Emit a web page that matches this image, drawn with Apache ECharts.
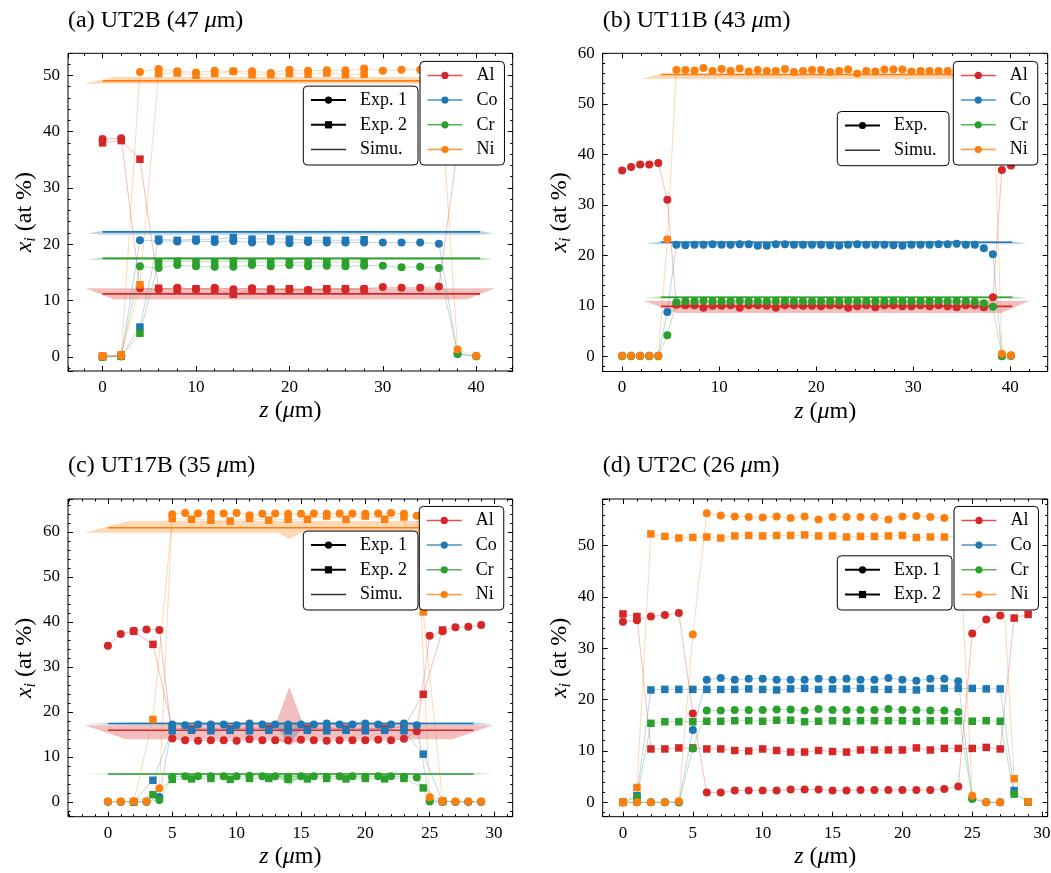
<!DOCTYPE html>
<html><head><meta charset="utf-8">
<script src="https://cdn.jsdelivr.net/npm/echarts@6/dist/echarts.min.js"></script>
<style>html,body{margin:0;padding:0;background:#fff}#c{width:1051px;height:873px}</style>
</head><body><div id="c"></div>
<script>
const FONT = "'Liberation Serif','DejaVu Serif',serif";
const ELEMENTS = ['Al', 'Co', 'Cr', 'Ni'];
const COLORS = { Al: '#d62728', Co: '#1f77b4', Cr: '#2ca02c', Ni: '#ff7f0e' };

// ---------- Panel (a) UT2B ----------
const a_x1 = [0,2,4,6,8,10,12,14,16,18,20,22,24,26,28,30,32,34,36,38,40];
const a_x2 = [0,2,4,6,8,10,12,14,16,18,20,22,24,26,28];
const a_Al_1 = [38.7,38.8,12.2,12.0,12.3,12.0,12.3,12.0,12.2,12.0,11.9,11.9,12.0,12.0,12.1,12.4,12.3,12.3,12.5,37.0,38.0];
const a_Al_2 = [38.0,38.4,35.1,12.2,12.0,12.1,12.0,11.1,12.0,12.0,12.1,11.8,12.1,12.1,12.0];
const a_Co_1 = [0.1,0.1,20.7,20.6,20.5,20.6,20.4,20.6,20.3,20.5,20.2,20.4,20.3,20.3,20.3,20.3,20.3,20.3,20.1,0.5,0.1];
const a_Co_2 = [0.1,0.2,5.3,20.9,20.7,20.9,20.9,21.2,20.9,21.0,20.9,20.7,20.7,20.7,20.8];
const a_Cr_1 = [0.0,0.1,16.1,15.8,16.3,16.1,16.0,16.0,16.3,16.1,16.3,16.1,16.2,16.1,16.2,16.2,15.9,16.0,15.8,0.6,0.1];
const a_Cr_2 = [0.0,0.1,4.2,16.9,17.0,16.9,16.9,17.0,16.8,16.9,16.8,16.7,16.8,16.9,16.8];
const a_Ni_1 = [0.1,0.2,50.6,51.1,50.7,50.5,50.8,50.7,50.7,50.4,51.0,50.8,50.9,50.9,51.2,50.8,51.0,51.0,51.1,1.3,0.2];
const a_Ni_2 = [0.2,0.4,12.8,50.3,50.4,50.0,50.3,50.7,50.1,50.1,50.3,50.2,50.4,50.1,50.2];
const a_simX = [0, 40.4];
const a_simY = { Al: 11.2, Co: 22.2, Cr: 17.5, Ni: 49.0 };
const a_band = {
  Al: [[-1.8,12.2],[42.0,12.2],[39.0,10.2],[1.2,10.2]],
  Co: [[-1.6,21.9],[0,22.4],[40.4,22.4],[41.8,21.9],[40.4,21.7],[0,21.7]],
  Cr: [[-1.6,17.3],[0,17.7],[40.4,17.7],[41.8,17.3],[40.4,17.2],[0,17.2]],
  Ni: [[-2.0,48.5],[1.2,49.7],[42.0,49.7],[42.0,48.5]]
};

// ---------- Panel (b) UT11B ----------
const b_x = [0.00,0.93,1.86,2.80,3.73,4.66,5.59,6.52,7.46,8.39,9.32,10.25,11.18,12.12,13.05,13.98,14.91,15.84,16.78,17.71,18.64,19.57,20.50,21.44,22.37,23.30,24.23,25.16,26.10,27.03,27.96,28.89,29.82,30.76,31.69,32.62,33.55,34.48,35.42,36.35,37.28,38.21,39.14,40.08];
const b_Al = [36.8,37.5,38.0,38.0,38.3,31.0,10.2,10.1,10.1,9.6,10.0,10.0,10.1,9.6,10.1,10.1,10.0,9.6,10.1,10.1,10.0,10.0,9.9,10.1,10.1,9.6,9.9,10.1,9.7,10.1,10.1,9.9,9.9,10.1,9.9,10.1,9.9,9.7,10.1,10.1,9.7,11.7,36.9,37.8];
const b_Co = [0.1,0.1,0.1,0.1,0.1,8.8,22.1,22.0,22.1,22.1,22.2,22.1,22.1,22.2,22.2,21.9,21.9,22.2,22.2,22.1,22.1,22.1,22.1,22.0,21.9,22.1,22.2,22.1,22.1,22.1,22.0,21.9,22.1,22.1,22.1,22.2,22.2,22.3,22.1,22.1,21.4,20.2,0.1,0.1];
const b_Cr = [0.0,0.0,0.0,0.0,0.0,4.2,10.7,10.9,10.9,11.0,10.9,10.9,10.9,11.0,10.9,10.9,10.9,10.9,11.0,10.9,10.9,10.9,10.9,10.9,10.9,11.0,10.9,10.9,10.9,10.9,11.0,10.9,10.9,10.9,10.9,11.0,10.9,10.9,10.9,10.8,10.5,9.8,0.0,0.1];
const b_Ni = [0.1,0.1,0.1,0.1,0.1,23.2,56.7,56.7,56.6,57.1,56.5,56.9,56.5,57.0,56.4,56.7,56.5,56.5,56.9,56.3,56.5,56.7,56.7,56.3,56.5,56.8,56.0,56.5,56.4,56.8,56.8,56.8,56.4,56.5,56.5,56.5,56.5,56.5,56.6,56.5,56.4,56.3,0.5,0.2];
const b_simX = [4.0, 40.2];
const b_simY = { Al: 9.9, Co: 22.6, Cr: 11.7, Ni: 55.8 };
const b_band = {
  Al: [[2.2,11.0],[42.0,11.0],[39.1,8.6],[5.6,8.6]],
  Co: [[2.4,22.3],[4.0,22.8],[40.2,22.8],[41.7,22.3],[40.2,22.2],[4.0,22.2]],
  Cr: [[2.4,11.6],[4.0,11.9],[40.2,11.9],[41.7,11.5],[40.2,11.4],[4.0,11.4]],
  Ni: [[2.0,54.9],[4.1,56.0],[42.0,56.0],[42.0,54.9]]
};

// ---------- Panel (c) UT17B ----------
const c_x1 = [0,1,2,3,4,5,6,7,8,9,10,11,12,13,14,15,16,17,18,19,20,21,22,23,24,25,26,27,28,29];
const c_x2 = [2,3.5,5,6.5,8,9.5,11,12.5,14,15.5,17,18.5,20,21.5,23,24.5,26];
const c_Al_1 = [34.7,37.3,38.0,38.3,38.2,14.1,13.7,13.6,13.7,13.7,13.6,13.9,13.7,13.7,13.7,13.8,13.7,13.6,13.7,13.7,13.7,13.8,13.7,14.0,15.7,36.9,37.9,38.8,38.9,39.3];
const c_Al_2 = [37.9,35.0,16.4,16.2,16.3,16.2,16.4,16.3,16.2,16.3,16.4,16.2,16.3,16.3,16.7,23.9,38.2];
const c_Co_1 = [0.0,0.0,0.0,0.0,1.1,17.2,17.0,17.2,17.2,17.2,17.0,17.4,17.2,17.2,17.2,17.2,17.2,17.4,17.2,17.2,17.4,17.2,17.2,17.4,17.0,0.3,0.1,0.0,0.0,0.0];
const c_Co_2 = [0.0,4.8,15.8,15.9,15.8,15.9,15.8,15.9,15.8,15.9,15.8,15.9,15.8,15.9,15.8,10.6,0.1];
const c_Cr_1 = [0.0,0.0,0.0,0.0,0.4,5.6,5.7,5.7,5.7,5.7,5.7,5.8,5.7,5.7,5.6,5.7,5.7,5.6,5.7,5.7,5.6,5.7,5.7,5.6,5.4,0.1,0.0,0.0,0.0,0.0];
const c_Cr_2 = [0.0,1.6,5.0,5.1,5.2,5.0,5.2,5.2,5.0,5.1,5.2,5.1,5.2,5.1,5.2,3.1,0.1];
const c_Ni_1 = [0.1,0.1,0.1,0.1,3.0,63.9,64.2,64.1,64.1,64.1,64.2,63.7,64.0,64.1,64.0,64.0,64.1,64.0,64.1,64.1,64.0,64.1,64.2,64.0,63.6,1.0,0.2,0.1,0.1,0.1];
const c_Ni_2 = [0.1,18.3,63.0,62.8,62.6,62.4,63.0,62.6,62.8,62.8,63.5,62.8,63.5,62.8,63.3,42.2,0.1];
const c_simX = [0, 28.4];
const c_simY = { Al: 15.9, Co: 17.4, Cr: 6.2, Ni: 60.9 };
const c_band = {
  Al: [[-1.8,17.0],[13.0,17.0],[14.1,25.6],[15.2,17.0],[29.9,17.0],[26.8,13.9],[15.2,13.9],[14.1,12.6],[13.0,13.9],[1.4,13.9]],
  Co: [[-1.8,17.3],[1.6,17.7],[28.4,17.7],[29.9,17.3],[28.4,17.0],[15.2,17.0],[14.1,12.6],[13.0,17.0],[1.6,17.0]],
  Cr: [[-1.8,6.2],[1.6,6.4],[28.4,6.4],[29.9,6.2],[28.4,6.0],[15.2,6.0],[14.1,3.7],[13.0,6.0],[1.6,6.0]],
  Ni: [[-1.8,59.8],[1.6,62.4],[29.9,62.4],[29.9,59.8],[15.0,59.8],[14.1,58.4],[13.2,59.8]]
};

// ---------- Panel (d) UT2C ----------
const d_x1 = [0,1,2,3,4,5,6,7,8,9,10,11,12,13,14,15,16,17,18,19,20,21,22,23,24,25,26,27];
const d_x2 = [0,1,2,3,4,5,6,7,8,9,10,11,12,13,14,15,16,17,18,19,20,21,22,23,24,25,26,27,28,29];
const d_Al_1 = [35.2,35.5,36.2,36.5,36.9,17.3,1.9,1.9,2.3,2.3,2.3,2.3,2.5,2.5,2.5,2.3,2.3,2.4,2.4,2.4,2.4,2.4,2.4,2.6,3.1,32.9,35.6,36.4];
const d_Al_2 = [36.7,36.2,10.4,10.4,10.6,10.6,10.4,10.4,10.1,10.0,10.4,10.1,9.8,9.8,10.1,9.9,9.8,10.2,10.2,10.2,10.2,10.6,10.2,10.5,10.5,10.5,10.7,10.4,35.9,36.6];
const d_Co_1 = [0.0,0.0,0.0,0.0,0.0,14.1,23.9,24.2,23.9,24.1,24.1,23.9,23.9,23.9,24.1,23.9,24.1,23.9,23.9,24.2,23.9,23.7,24.1,24.1,23.6,0.7,0.0,0.0];
const d_Co_2 = [0.0,1.3,21.9,22.0,22.0,22.0,22.0,22.0,22.0,22.1,22.0,21.9,22.1,22.2,22.0,22.1,22.1,22.2,22.0,22.0,22.0,21.9,22.2,22.2,22.2,22.2,22.1,22.1,2.3,0.1];
const d_Cr_1 = [0.0,0.0,0.0,0.0,0.0,10.5,17.9,17.9,18.0,18.0,18.0,18.1,18.1,17.9,18.2,18.0,18.0,18.0,18.0,18.2,18.0,18.0,17.9,17.9,17.6,0.7,0.0,0.0];
const d_Cr_2 = [0.0,1.0,15.4,15.7,15.7,15.7,15.8,15.8,15.9,15.9,15.8,16.0,16.0,15.7,15.8,15.9,15.8,15.9,15.9,15.9,15.9,15.8,15.9,15.9,15.9,15.8,15.9,15.8,1.6,0.1];
const d_Ni_1 = [0.0,0.0,0.0,0.0,0.2,32.7,56.3,55.9,55.7,55.6,55.5,55.7,55.4,55.7,55.1,55.6,55.6,55.6,55.6,55.1,55.7,55.8,55.6,55.4,55.5,1.3,0.0,0.0];
const d_Ni_2 = [0.0,2.9,52.3,51.8,51.5,51.6,51.7,51.5,51.9,52.0,51.9,52.0,52.0,52.1,51.9,51.9,51.7,51.8,51.8,51.9,52.0,51.6,51.7,51.7,51.8,51.8,51.8,51.8,4.6,0.1];

// ---------- layout ----------
const PANELS = [
  { title: '(a) UT2B (47 {it|μ}m)', titlePos: [68, 7],
    grid: { left: 68, top: 53.3, width: 444.7, height: 317.7 },
    x: [-3.7, 43.9, 10, 2], y: [-2.5, 53.9, 10, 2],
    exp: [{ x: a_x1, sym: 'circle', v: { Al: a_Al_1, Co: a_Co_1, Cr: a_Cr_1, Ni: a_Ni_1 } },
          { x: a_x2, sym: 'rect', v: { Al: a_Al_2, Co: a_Co_2, Cr: a_Cr_2, Ni: a_Ni_2 } }],
    sim: { x: a_simX, y: a_simY, band: a_band },
    elemLegend: [420, 61.4], expLegend: { pos: [303.3, 86.1], names: ['Exp. 1', 'Exp. 2', 'Simu.'], w: 52 } },
  { title: '(b) UT11B (43 {it|μ}m)', titlePos: [602.7, 7],
    grid: { left: 602.7, top: 53.3, width: 445, height: 318.2 },
    x: [-2.0, 43.86, 10, 2], y: [-3.0, 60.0, 10, 2],
    exp: [{ x: b_x, sym: 'circle', v: { Al: b_Al, Co: b_Co, Cr: b_Cr, Ni: b_Ni } }],
    sim: { x: b_simX, y: b_simY, band: b_band },
    elemLegend: [953.3, 61.4], expLegend: { pos: [837.3, 111.5], names: ['Exp.', 'Simu.'], w: 49 } },
  { title: '(c) UT17B (35 {it|μ}m)', titlePos: [68, 452],
    grid: { left: 68, top: 499, width: 444.7, height: 317.7 },
    x: [-3.1, 31.45, 5, 1], y: [-3.3, 67.3, 10, 2],
    exp: [{ x: c_x1, sym: 'circle', v: { Al: c_Al_1, Co: c_Co_1, Cr: c_Cr_1, Ni: c_Ni_1 } },
          { x: c_x2, sym: 'rect', v: { Al: c_Al_2, Co: c_Co_2, Cr: c_Cr_2, Ni: c_Ni_2 } }],
    sim: { x: c_simX, y: c_simY, band: c_band },
    elemLegend: [419.3, 506.4], expLegend: { pos: [303.3, 531.1], names: ['Exp. 1', 'Exp. 2', 'Simu.'], w: 52 } },
  { title: '(d) UT2C (26 {it|μ}m)', titlePos: [602.7, 452],
    grid: { left: 602.7, top: 499, width: 445, height: 317.7 },
    x: [-1.45, 30.4, 5, 1], y: [-2.8, 59.1, 10, 2],
    exp: [{ x: d_x1, sym: 'circle', v: { Al: d_Al_1, Co: d_Co_1, Cr: d_Cr_1, Ni: d_Ni_1 } },
          { x: d_x2, sym: 'rect', v: { Al: d_Al_2, Co: d_Co_2, Cr: d_Cr_2, Ni: d_Ni_2 } }],
    sim: null,
    elemLegend: [954, 506.4], expLegend: { pos: [837.3, 555.8], names: ['Exp. 1', 'Exp. 2'], w: 52 } }
];

function fmt(step) {
  return v => Math.abs(v / step - Math.round(v / step)) < 1e-6 ? String(Math.round(v)) : '';
}
const nameStyle = {
  color: '#000', fontFamily: FONT, fontSize: 24, lineHeight: 28,
  rich: {
    it: { fontStyle: 'italic', fontFamily: FONT, fontSize: 24, lineHeight: 28, color: '#000' },
    sub: { fontStyle: 'italic', fontFamily: FONT, fontSize: 16, lineHeight: 16, verticalAlign: 'bottom', color: '#000' }
  }
};
function tick(len) { return { show: true, inside: true, length: len, lineStyle: { color: '#000', width: 1 } }; }
function axisSet(dim, gi, range, name, gap) {
  const [mn, mx, major, minor] = range;
  const pos = dim === 'x' ? ['bottom', 'top'] : ['left', 'right'];
  const common = { type: 'value', gridIndex: gi, min: mn, max: mx, splitLine: { show: false },
    splitArea: { show: false }, axisLine: { show: false, onZero: false }, axisLabel: { show: false } };
  return [
    Object.assign({}, common, { position: pos[0], minInterval: major, maxInterval: major, axisTick: tick(5),
      axisLabel: { show: true, color: '#000', fontFamily: FONT, fontSize: 17, margin: 8, formatter: fmt(major) },
      name: name, nameLocation: 'middle', nameGap: gap, nameTextStyle: nameStyle }),
    Object.assign({}, common, { position: pos[0], minInterval: minor, maxInterval: minor, axisTick: tick(2.5) }),
    Object.assign({}, common, { position: pos[1], minInterval: major, maxInterval: major, axisTick: tick(5) }),
    Object.assign({}, common, { position: pos[1], minInterval: minor, maxInterval: minor, axisTick: tick(2.5) })
  ];
}

const grids = [], xAxes = [], yAxes = [], titles = [], legends = [];
const bands = [], sims = [], exps = [];

PANELS.forEach((p, gi) => {
  grids.push(Object.assign({ show: true, borderColor: '#000', borderWidth: 1, backgroundColor: 'transparent',
    containLabel: false, outerBoundsMode: 'none' }, p.grid));
  xAxes.push(...axisSet('x', gi, p.x, '{it|z} ({it|μ}m)', 26));
  yAxes.push(...axisSet('y', gi, p.y, '{it|x}{sub|i} (at %)', 27));
  titles.push({ text: p.title, left: p.titlePos[0], top: p.titlePos[1], padding: 0,
    textStyle: { fontFamily: FONT, fontSize: 24, fontWeight: 'normal', color: '#000', lineHeight: 28,
      rich: { it: { fontFamily: FONT, fontSize: 24, fontStyle: 'italic', lineHeight: 28, color: '#000' } } } });
  const legBase = { orient: 'vertical', padding: [5, 6, 6.5, 6.7], itemWidth: 35, itemHeight: 9, itemGap: 6.7,
    backgroundColor: '#fff', borderColor: '#000', borderWidth: 1, borderRadius: 4, selectedMode: false,
    symbolKeepAspect: true, z: 10 };
  legends.push(Object.assign({}, legBase, { left: p.elemLegend[0], top: p.elemLegend[1],
    textStyle: { fontFamily: FONT, fontSize: 18, color: '#000', lineHeight: 18, width: 22, padding: [0, 0, 0, 9] },
    data: ELEMENTS.map(e => ({ name: e, lineStyle: { opacity: 0.8, width: 1.5 } })) }));
  legends.push(Object.assign({}, legBase, { left: p.expLegend.pos[0], top: p.expLegend.pos[1],
    textStyle: { fontFamily: FONT, fontSize: 18, color: '#000', lineHeight: 18, width: p.expLegend.w, padding: [0, 0, 0, 9] },
    data: p.expLegend.names.map(n => n === 'Simu.' ? { name: n, icon: 'path://M0,0H40V1.6H0Z' } : { name: n }) }));

  const ax = gi * 4;
  ELEMENTS.forEach(el => {
    if (p.sim) {
      const poly = p.sim.band[el];
      bands.push({ type: 'custom', coordinateSystem: 'cartesian2d', xAxisIndex: ax, yAxisIndex: ax,
        data: [[0, 0]], silent: true, z: 1,
        renderItem: (params, api) => ({ type: 'polygon', shape: { points: poly.map(pt => api.coord(pt)) },
          style: { fill: COLORS[el], opacity: 0.3 } }) });
      sims.push({ type: 'line', xAxisIndex: ax, yAxisIndex: ax, symbol: 'none', silent: true, z: 2,
        data: p.sim.x.map(xx => [xx, p.sim.y[el]]), lineStyle: { color: COLORS[el], width: 1.6 } });
    }
    p.exp.forEach(ex => {
      exps.push({ type: 'line', name: el, xAxisIndex: ax, yAxisIndex: ax, symbol: ex.sym,
        symbolSize: ex.sym === 'rect' ? 7.5 : 8,
        showSymbol: true, z: 3, silent: true, emphasis: { disabled: true },
        data: ex.x.map((xx, i) => [xx, ex.v[el][i]]),
        itemStyle: { color: COLORS[el], opacity: 1 },
        lineStyle: { color: COLORS[el], width: 1, opacity: 0.3 } });
    });
  });
});

const dummies = [
  { type: 'line', name: 'Exp. 1', data: [], symbol: 'circle', symbolSize: 7, xAxisIndex: 0, yAxisIndex: 0,
    itemStyle: { color: '#000' }, lineStyle: { color: '#000', width: 1.5 } },
  { type: 'line', name: 'Exp.', data: [], symbol: 'circle', symbolSize: 7, xAxisIndex: 0, yAxisIndex: 0,
    itemStyle: { color: '#000' }, lineStyle: { color: '#000', width: 1.5 } },
  { type: 'line', name: 'Exp. 2', data: [], symbol: 'rect', symbolSize: 7, xAxisIndex: 0, yAxisIndex: 0,
    itemStyle: { color: '#000' }, lineStyle: { color: '#000', width: 1.5 } },
  { type: 'line', name: 'Simu.', data: [], symbol: 'none', xAxisIndex: 0, yAxisIndex: 0,
    itemStyle: { color: '#333' }, lineStyle: { color: '#333', width: 1.5 } }
];

const chart = echarts.init(document.getElementById('c'), null, { renderer: 'canvas', width: 1051, height: 873 });
chart.setOption({
  animation: false,
  backgroundColor: '#fff',
  title: titles,
  legend: legends,
  grid: grids,
  xAxis: xAxes,
  yAxis: yAxes,
  series: [].concat(exps.slice(0, 1), bands, sims, exps.slice(1), dummies)
});
</script>
</body></html>
